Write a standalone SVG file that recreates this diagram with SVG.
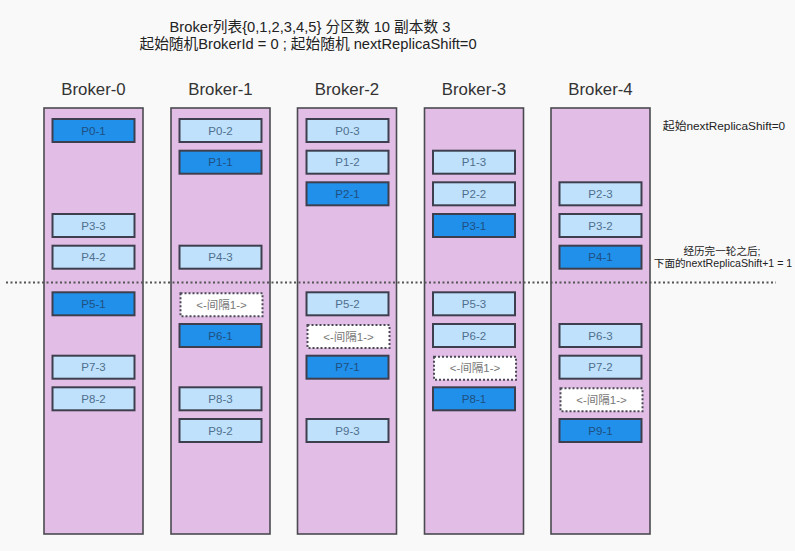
<svg xmlns="http://www.w3.org/2000/svg" width="795" height="551" viewBox="0 0 795 551">
<style>
text{font-family:"Liberation Sans","Noto Sans CJK SC",sans-serif}
.col{fill:#e2bee6;stroke:#4a4a50;stroke-width:1.6}
.hd{font-size:16.8px;fill:#333;text-anchor:middle}
.lt rect{fill:#bfe1fb;stroke:#3e3f4e;stroke-width:2}
.dk rect{fill:#2190ea;stroke:#3e3f4e;stroke-width:2}
.gp rect{fill:#fff;stroke:#4a4a55;stroke-width:2;stroke-dasharray:2 2}
.lt text{font-size:11.5px;fill:#4f6f8e;text-anchor:middle}
.dk text{font-size:11.5px;fill:#1f4f80;text-anchor:middle}
.gp text{font-size:11.5px;fill:#777;text-anchor:middle}
.t{font-size:14.7px;fill:#222;text-anchor:middle}
.n{font-size:11.8px;fill:#222;text-anchor:middle}
.n2{font-size:10.6px;fill:#222;text-anchor:middle}
</style>
<rect width="795" height="551" fill="#f9f9f9"/>
<g id="title">
<text class="t" x="310" y="32">Broker列表{0,1,2,3,4,5} 分区数 10 副本数 3</text>
<text class="t" x="308" y="48.5">起始随机BrokerId = 0 ; 起始随机 nextReplicaShift=0</text>
</g>
<g id="notes">
<text class="n" x="724" y="130">起始nextReplicaShift=0</text>
<text class="n2" x="722" y="254.5">经历完一轮之后;</text>
<text class="n2" x="723" y="267">下面的nextReplicaShift+1 = 1</text>
</g>
<g id="broker0">
<rect class="col" x="44" y="108" width="99" height="426"/>
<text class="hd" x="93.5" y="95">Broker-0</text>
</g>
<g id="broker1">
<rect class="col" x="171" y="108" width="99" height="426"/>
<text class="hd" x="220.5" y="95">Broker-1</text>
</g>
<g id="broker2">
<rect class="col" x="297.5" y="108" width="99" height="426"/>
<text class="hd" x="347" y="95">Broker-2</text>
</g>
<g id="broker3">
<rect class="col" x="424.5" y="108" width="99" height="426"/>
<text class="hd" x="474" y="95">Broker-3</text>
</g>
<g id="broker4">
<rect class="col" x="551" y="108" width="99" height="426"/>
<text class="hd" x="600.5" y="95">Broker-4</text>
</g>
<g id="connectors">
<line x1="6" y1="282.5" x2="776" y2="282.5" stroke="#555" stroke-width="2" stroke-dasharray="2 2.5"/>
</g>
<!-- Broker-0 partitions -->
<g id="b0-p0-1" class="dk"><rect x="52.5" y="119" width="82" height="23"/><text x="93.5" y="134.5">P0-1</text></g>
<g id="b0-p3-3" class="lt"><rect x="52.5" y="214" width="82" height="23"/><text x="93.5" y="229.5">P3-3</text></g>
<g id="b0-p4-2" class="lt"><rect x="52.5" y="245.7" width="82" height="23"/><text x="93.5" y="261.2">P4-2</text></g>
<g id="b0-p5-1" class="dk"><rect x="52.5" y="292.3" width="82" height="23"/><text x="93.5" y="307.8">P5-1</text></g>
<g id="b0-p7-3" class="lt"><rect x="52.5" y="355.7" width="82" height="23"/><text x="93.5" y="371.2">P7-3</text></g>
<g id="b0-p8-2" class="lt"><rect x="52.5" y="387.3" width="82" height="23"/><text x="93.5" y="402.8">P8-2</text></g>
<!-- Broker-1 partitions -->
<g id="b1-p0-2" class="lt"><rect x="179.5" y="119" width="82" height="23"/><text x="220.5" y="134.5">P0-2</text></g>
<g id="b1-p1-1" class="dk"><rect x="179.5" y="150.7" width="82" height="23"/><text x="220.5" y="166.2">P1-1</text></g>
<g id="b1-p4-3" class="lt"><rect x="179.5" y="245.7" width="82" height="23"/><text x="220.5" y="261.2">P4-3</text></g>
<g id="b1-gap" class="gp"><rect x="180.5" y="293.3" width="82" height="23"/><text x="221.5" y="308.8">&lt;-间隔1-&gt;</text></g>
<g id="b1-p6-1" class="dk"><rect x="179.5" y="324" width="82" height="23"/><text x="220.5" y="339.5">P6-1</text></g>
<g id="b1-p8-3" class="lt"><rect x="179.5" y="387.3" width="82" height="23"/><text x="220.5" y="402.8">P8-3</text></g>
<g id="b1-p9-2" class="lt"><rect x="179.5" y="419" width="82" height="23"/><text x="220.5" y="434.5">P9-2</text></g>
<!-- Broker-2 partitions -->
<g id="b2-p0-3" class="lt"><rect x="306.5" y="119" width="82" height="23"/><text x="347.5" y="134.5">P0-3</text></g>
<g id="b2-p1-2" class="lt"><rect x="306.5" y="150.7" width="82" height="23"/><text x="347.5" y="166.2">P1-2</text></g>
<g id="b2-p2-1" class="dk"><rect x="306.5" y="182.3" width="82" height="23"/><text x="347.5" y="197.8">P2-1</text></g>
<g id="b2-p5-2" class="lt"><rect x="306.5" y="292.3" width="82" height="23"/><text x="347.5" y="307.8">P5-2</text></g>
<g id="b2-gap" class="gp"><rect x="307.5" y="325" width="82" height="23"/><text x="348.5" y="340.5">&lt;-间隔1-&gt;</text></g>
<g id="b2-p7-1" class="dk"><rect x="306.5" y="355.7" width="82" height="23"/><text x="347.5" y="371.2">P7-1</text></g>
<g id="b2-p9-3" class="lt"><rect x="306.5" y="419" width="82" height="23"/><text x="347.5" y="434.5">P9-3</text></g>
<!-- Broker-3 partitions -->
<g id="b3-p1-3" class="lt"><rect x="433" y="150.7" width="82" height="23"/><text x="474" y="166.2">P1-3</text></g>
<g id="b3-p2-2" class="lt"><rect x="433" y="182.3" width="82" height="23"/><text x="474" y="197.8">P2-2</text></g>
<g id="b3-p3-1" class="dk"><rect x="433" y="214" width="82" height="23"/><text x="474" y="229.5">P3-1</text></g>
<g id="b3-p5-3" class="lt"><rect x="433" y="292.3" width="82" height="23"/><text x="474" y="307.8">P5-3</text></g>
<g id="b3-p6-2" class="lt"><rect x="433" y="324" width="82" height="23"/><text x="474" y="339.5">P6-2</text></g>
<g id="b3-gap" class="gp"><rect x="434" y="356.7" width="82" height="23"/><text x="475" y="372.2">&lt;-间隔1-&gt;</text></g>
<g id="b3-p8-1" class="dk"><rect x="433" y="387.3" width="82" height="23"/><text x="474" y="402.8">P8-1</text></g>
<!-- Broker-4 partitions -->
<g id="b4-p2-3" class="lt"><rect x="559.5" y="182.3" width="82" height="23"/><text x="600.5" y="197.8">P2-3</text></g>
<g id="b4-p3-2" class="lt"><rect x="559.5" y="214" width="82" height="23"/><text x="600.5" y="229.5">P3-2</text></g>
<g id="b4-p4-1" class="dk"><rect x="559.5" y="245.7" width="82" height="23"/><text x="600.5" y="261.2">P4-1</text></g>
<g id="b4-p6-3" class="lt"><rect x="559.5" y="324" width="82" height="23"/><text x="600.5" y="339.5">P6-3</text></g>
<g id="b4-p7-2" class="lt"><rect x="559.5" y="355.7" width="82" height="23"/><text x="600.5" y="371.2">P7-2</text></g>
<g id="b4-gap" class="gp"><rect x="560.5" y="388.3" width="82" height="23"/><text x="601.5" y="403.8">&lt;-间隔1-&gt;</text></g>
<g id="b4-p9-1" class="dk"><rect x="559.5" y="419" width="82" height="23"/><text x="600.5" y="434.5">P9-1</text></g>
</svg>
